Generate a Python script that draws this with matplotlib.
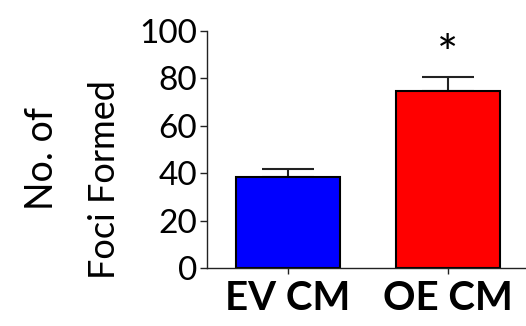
import matplotlib
matplotlib.use("Agg")
import matplotlib.pyplot as plt

groups = ["EV CM", "OE CM"]
foci = [38.5, 74.8]
sem = [3.3, 5.6]
bar_colors = ["#0000FF", "#FF0000"]
sig_marks = ["", "*"]

plt.rcParams["font.family"] = ["Lato", "DejaVu Sans"]

fig = plt.figure(figsize=(5.26, 3.26), dpi=100)
ax = fig.add_axes([0.3935, 0.178, 0.6065, 0.727])

x = list(range(len(groups)))
ax.bar(x, foci, width=0.65, color=bar_colors, edgecolor="black", linewidth=1.5, zorder=2)
ax.errorbar(x, foci, yerr=[[0, 0], sem], fmt="none", ecolor="#222222",
            elinewidth=1.5, capsize=19, capthick=1.5, zorder=1)

# significance star above the error bar
for xi, f, s, m in zip(x, foci, sem, sig_marks):
    if m:
        ax.text(xi, f + s - 1, m, ha="center", va="bottom", fontsize=36)

ax.set_xlim(-0.506, 1.49)
ax.set_ylim(0, 100)
ax.set_yticks([0, 20, 40, 60, 80, 100])
ax.set_xticks(x)
ax.set_xticklabels(groups, fontsize=29, fontweight="bold")
ax.tick_params(axis="y", labelsize=24, length=5, width=1, pad=2, colors="#222222")
ax.tick_params(axis="x", length=4, width=1, pad=5, colors="#222222")
for lab in ax.get_xticklabels() + ax.get_yticklabels():
    lab.set_color("black")

# two-line y label, each line placed on its own like the original
fig.text(0.08, 0.515, "No. of", rotation=90, ha="center", va="center", fontsize=27)
fig.text(0.199, 0.448, "Foci Formed", rotation=90, ha="center", va="center", fontsize=26)

for side in ["top", "right"]:
    ax.spines[side].set_visible(False)
for side in ["left", "bottom"]:
    ax.spines[side].set_color("#222222")
    ax.spines[side].set_linewidth(1)

fig.savefig("out.png", dpi=100)
